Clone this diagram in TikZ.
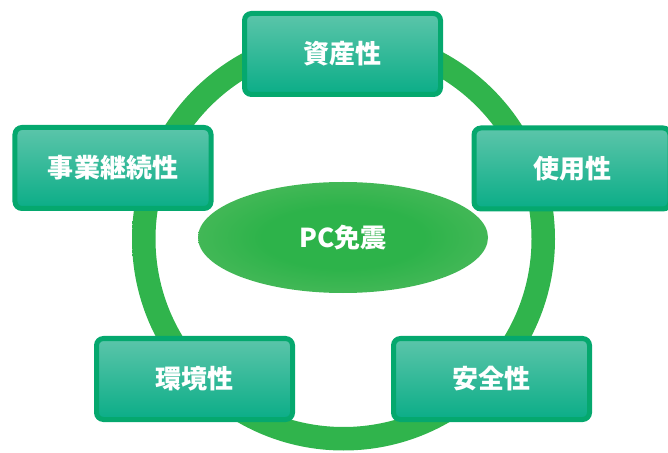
\documentclass[tikz,border=0pt]{standalone}
\usepackage{fontspec}
\newfontfamily\cjk{Noto Sans CJK JP}
\usetikzlibrary{shapes.geometric}
\definecolor{ringdark}{HTML}{30B44C}
\definecolor{ringlight}{HTML}{68BE67}
\definecolor{boxborder}{HTML}{05A86E}
\definecolor{boxtop}{HTML}{5CC5AA}
\definecolor{boxmid}{HTML}{16B892}
\definecolor{boxbot}{HTML}{0AAD87}
\definecolor{pcin}{HTML}{2DB34A}
\definecolor{pcout}{HTML}{72C272}
\pgfdeclareradialshading{pcshade}{\pgfpoint{0bp}{0bp}}{color(0bp)=(pcin); color(14bp)=(pcin); color(50bp)=(pcout); color(72bp)=(pcout)}
\pgfdeclarehorizontalshading{ringshade}{100bp}{color(0bp)=(ringlight); color(6bp)=(ringlight); color(24bp)=(ringdark); color(76bp)=(ringdark); color(94bp)=(ringlight); color(100bp)=(ringlight)}
\tikzset{
  box/.style={rectangle, rounded corners=7bp, draw=boxborder, line width=5bp,
    top color=boxtop, middle color=boxmid, bottom color=boxbot,
    minimum width=196bp, minimum height=81bp, inner sep=0pt,
    text=white, font=\cjk\bfseries\fontsize{26bp}{30bp}\selectfont},
  core/.style={ellipse, shading=pcshade, minimum width=290bp, minimum height=111bp,
    inner sep=0pt, text=white, font=\cjk\bfseries\fontsize{26bp}{30bp}\selectfont}
}
\begin{document}
\begin{tikzpicture}[x=1bp,y=-1bp]
\useasboundingbox (0,0) rectangle (668,453);
\coordinate (c) at (343.5,239);
\path[even odd rule, shading=ringshade]
  (c) circle (211.5) (c) circle (188);
\node[core] (pc) at (343,237.5) {PC免震};
\node[box] (shisan) at (342.5,54) {資産性};
\node[box] (jigyo) at (113,168) {事業継続性};
\node[box] (shiyo) at (572,168.5) {使用性};
\node[box] (kankyo) at (194.5,379) {環境性};
\node[box] (anzen) at (491.5,379) {安全性};
\end{tikzpicture}
\end{document}
